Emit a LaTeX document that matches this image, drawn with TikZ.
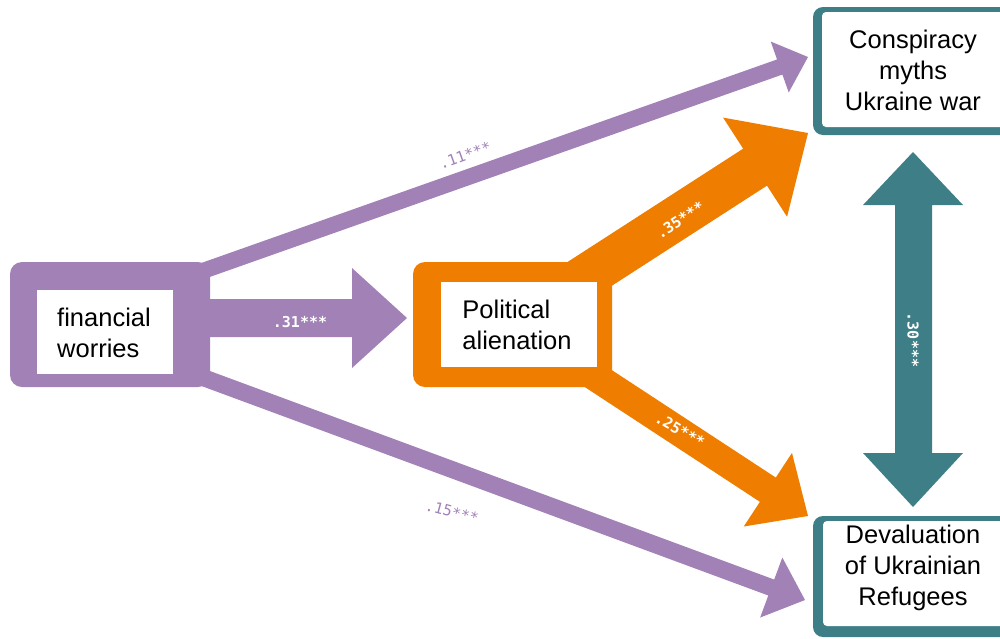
\documentclass[tikz,border=0pt]{standalone}
\usepackage{fontspec}
\setmainfont{Liberation Sans}
\newfontfamily\lblfont{DejaVu Sans Mono}
\usetikzlibrary{calc}
\definecolor{pur}{RGB}{161,129,182}
\definecolor{org}{RGB}{238,125,0}
\definecolor{tealc}{RGB}{62,127,135}
% #1 colour, #2 start, #3 tip, #4 half shaft, #5 half head, #6 head length
\newcommand{\fatarrow}[6]{%
  \coordinate (hb) at ($(#3)!#6pt!(#2)$);
  \fill[#1] ($(#2)!#4pt!90:(#3)$) -- ($(hb)!#4pt!90:(#3)$) -- ($(hb)!#5pt!90:(#3)$)
    -- (#3) -- ($(hb)!#5pt!-90:(#3)$) -- ($(hb)!#4pt!-90:(#3)$) -- ($(#2)!#4pt!-90:(#3)$) -- cycle;
}
\begin{document}
\begin{tikzpicture}[x=1pt,y=-1pt,
  boxtext/.style={font=\fontsize{25.5}{31}\selectfont, inner sep=0pt},
  lbl/.style={font=\lblfont\bfseries\fontsize{15}{15}\selectfont, inner sep=0pt, text=white},
  plbl/.style={font=\lblfont\fontsize{15}{15}\selectfont, inner sep=0pt, text=pur}]
\useasboundingbox (0,0) rectangle (1000,638);
\clip (0,0) rectangle (1000,638);

% anchor coordinates
\coordinate (fwc) at (110,318);
\coordinate (fwu) at (180,279);
\coordinate (fwd) at (180,369);
\coordinate (pac) at (512,324);
\coordinate (pad) at (512,322);
\coordinate (t31) at (407,318);
\coordinate (t11) at (808,57);
\coordinate (t15) at (805,600);
\coordinate (t35) at (808,133);
\coordinate (t25) at (808,516);

% arrows
\fatarrow{pur}{fwu}{t11}{8}{27}{30}
\fatarrow{pur}{fwd}{t15}{8.5}{32}{36}
\fatarrow{pur}{fwc}{t31}{19}{50}{55}
\fatarrow{org}{pac}{t35}{22}{59}{63}
\fatarrow{org}{pad}{t25}{14.5}{44}{48}

% teal double arrow
\coordinate (ctop) at (913,152);
\coordinate (cbot) at (913,507);
\fill[tealc] (ctop) -- (963,205) -- (932,205) -- (932,453) -- (963,453) -- (cbot)
  -- (863,453) -- (895,453) -- (895,205) -- (863,205) -- cycle;

% boxes
\fill[pur, rounded corners=12pt] (10,262) rectangle (210,387);
\fill[white] (37,290) rectangle (173,374);
\fill[org, rounded corners=12pt] (413,262) rectangle (612,387);
\fill[white] (441,282) rectangle (597,367);
\fill[tealc, rounded corners=10pt] (813,7) rectangle (1015,135);
\fill[white, rounded corners=4pt] (822,12) rectangle (1015,127);
\fill[tealc, rounded corners=10pt] (813,516) rectangle (1015,637);
\fill[white, rounded corners=4pt] (823,521) rectangle (1015,626);

% texts
\node[boxtext, align=left] (fw) at (104,333) {financial\\worries};
\node[boxtext, align=left] (pa) at (517,325) {Political\\alienation};
\node[boxtext, align=center] (cm) at (913,70) {Conspiracy\\myths\\Ukraine war};
\node[boxtext, align=center] (dv) at (913,568) {Devaluation\\of Ukrainian\\Refugees};

% labels
\node[lbl] (l31) at (300,322) {.31***};
\node[lbl, rotate=33] (l35) at (680,220) {.35***};
\node[lbl, rotate=-30] (l25) at (680,430) {.25***};
\node[lbl, rotate=-90] (l30) at (913,340) {.30***};
\node[plbl, rotate=20] (l11) at (465,155) {.11***};
\node[plbl, rotate=-15] (l15) at (452,512) {.15***};
\end{tikzpicture}
\end{document}
